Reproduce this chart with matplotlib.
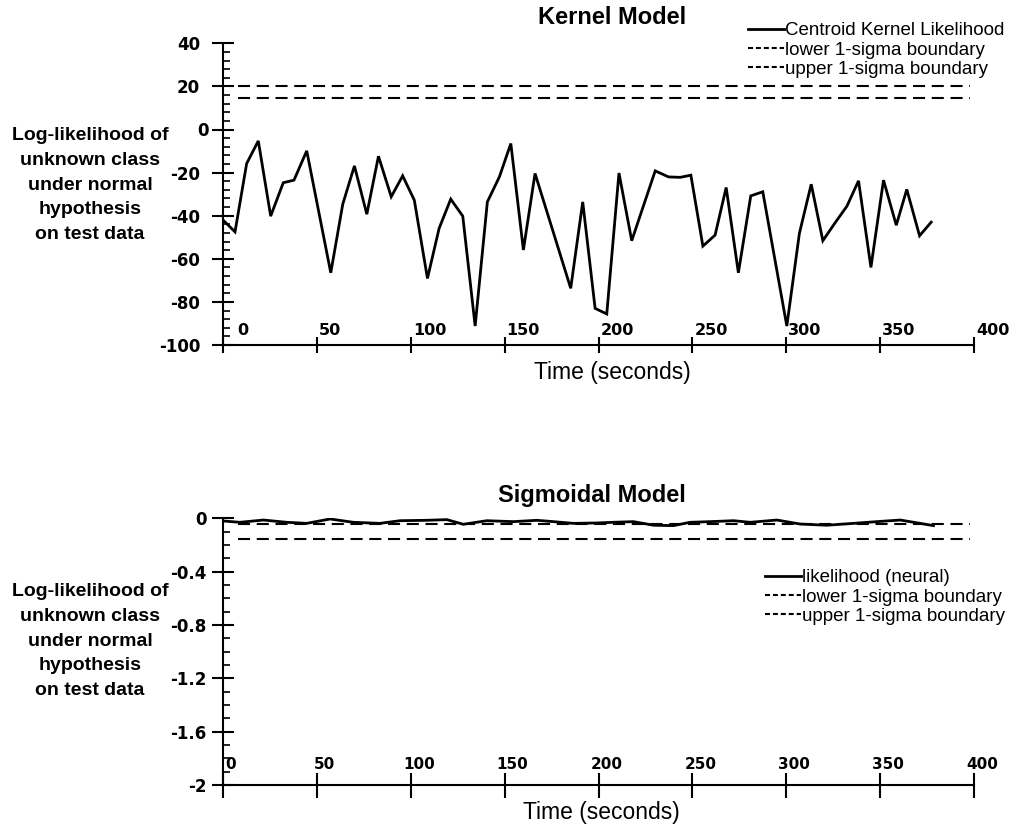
import matplotlib
matplotlib.use('Agg')
import matplotlib.pyplot as plt
import matplotlib.ticker as ticker
from matplotlib import font_manager, transforms
from matplotlib.lines import Line2D

# ---- data ----
kernel_time = [0, 6.4, 12.6, 18.8, 25.4, 32.1, 37.8, 44.6, 57.4, 63.8, 70.0, 76.6,
               82.8, 89.6, 95.7, 101.9, 108.9, 115.1, 121.3, 127.7, 134.3, 140.8,
               147.2, 153.3, 160.0, 166.2, 185.2, 191.6, 198.2, 204.4, 210.9, 217.7,
               230.2, 237.3, 243.5, 249.2, 255.6, 262.1, 268.0, 274.5, 281.1, 287.5,
               300.3, 307.0, 313.3, 319.5, 326.0, 332.3, 338.5, 345.1, 351.8, 358.6,
               364.2, 371.0, 377.2]
kernel_loglik = [-42, -47.5, -15.8, -5.3, -40.2, -24.7, -23.5, -9.9, -66.5, -34.6,
                 -16.9, -39.3, -12.4, -31.2, -21.5, -32.8, -69.1, -45.9, -32.3, -40.2,
                 -91.2, -33.6, -22.0, -6.5, -55.9, -20.4, -73.7, -33.6, -83.0, -85.6,
                 -20.2, -51.6, -19.2, -22.0, -22.2, -21.2, -54.1, -49.0, -26.9, -66.5,
                 -30.8, -28.9, -91.2, -48.2, -25.4, -51.6, -43.3, -35.6, -23.8, -64.0,
                 -23.5, -44.4, -27.8, -49.3, -43.0]
kernel_lower = 14.5
kernel_upper = 20.0

sig_time = [0, 9, 21.5, 33.9, 44.6, 57, 69.4, 83.6, 94.3, 108.5, 119.2, 128, 140.5,
            154.7, 167.1, 176, 186.6, 199, 207.9, 218.6, 229.3, 239.9, 248.8, 259.5,
            271.9, 280.8, 295, 307.4, 321.6, 335.8, 348.3, 360.7, 371.3, 378.4]
sig_loglik = [-0.020, -0.030, -0.013, -0.030, -0.038, -0.005, -0.030, -0.038, -0.018,
              -0.015, -0.010, -0.045, -0.018, -0.025, -0.015, -0.025, -0.038, -0.035,
              -0.030, -0.025, -0.052, -0.055, -0.030, -0.025, -0.018, -0.030, -0.013,
              -0.043, -0.052, -0.038, -0.025, -0.013, -0.038, -0.055]
sig_lower = -0.155
sig_upper = -0.045

bound_time = [8, 398]

x_ticks = [0, 50, 100, 150, 200, 250, 300, 350, 400]
x_labels = ['0', '50', '100', '150', '200', '250', '300', '350', '400']
kernel_yticks = [40, 20, 0, -20, -40, -60, -80, -100]
kernel_ylabels = ['40', '20', '0', '-20', '-40', '-60', '-80', '-100']
sig_yticks = [0, -0.4, -0.8, -1.2, -1.6, -2]
sig_ylabels = ['0', '-0.4', '-0.8', '-1.2', '-1.6', '-2']

kernel_legend = ['Centroid Kernel Likelihood', 'lower 1-sigma boundary', 'upper 1-sigma boundary']
sig_legend = ['likelihood (neural)', 'lower 1-sigma boundary', 'upper 1-sigma boundary']
ylabel_text = 'Log-likelihood of\nunknown class\nunder normal\nhypothesis\non test data'

installed = {f.name for f in font_manager.fontManager.ttflist}
NARROW = 'Liberation Sans Narrow' if 'Liberation Sans Narrow' in installed else 'Liberation Sans'
NARROW_SIZE = 16 if NARROW == 'Liberation Sans Narrow' else 13.5

W, H = 1011, 833
fig = plt.figure(figsize=(W / 100, H / 100), dpi=100)


def px_axes(x0, y0, x1, y1):
    return fig.add_axes([x0 / W, 1 - y1 / H, (x1 - x0) / W, (y1 - y0) / H])


DASH = (0, (5.8, 3.2))


def style(ax, yticks, ylabels, nminor, ypad, xlen, xdx, xdy, xha, xsize):
    for s in ['top', 'right']:
        ax.spines[s].set_visible(False)
    for s in ['left', 'bottom']:
        ax.spines[s].set_linewidth(1.5)
    ax.set_xlim(0, 400)
    ax.set_xticks(x_ticks)
    ax.set_xticklabels([])
    ax.tick_params(axis='x', direction='inout', length=xlen, width=1.5)
    ax.set_yticks(yticks)
    ax.set_yticklabels(ylabels, fontsize=12, fontweight='bold', family='DejaVu Sans')
    ax.tick_params(axis='y', which='major', direction='inout', length=16, width=1.5, pad=ypad)
    ax.yaxis.set_minor_locator(ticker.AutoMinorLocator(nminor))
    ax.tick_params(axis='y', which='minor', direction='in', length=5, width=1.2)
    for x, lab in zip(x_ticks, x_labels):
        dx = xdx
        if xha == 'left' and lab == '0':
            dx = 14
        tr = transforms.offset_copy(ax.get_xaxis_transform(), fig=fig, x=dx, y=xdy, units='dots')
        ax.text(x, 0, lab, transform=tr, ha=xha, va='bottom', fontsize=xsize,
                fontweight='bold', family='DejaVu Sans')


# ---- Kernel model ----
ax_k = px_axes(223, 43.3, 974, 345)
ax_k.plot(kernel_time, kernel_loglik, color='black', lw=2, solid_joinstyle='miter')
ax_k.plot(bound_time, [kernel_lower, kernel_lower], color='black', lw=1.5, ls=DASH)
ax_k.plot(bound_time, [kernel_upper, kernel_upper], color='black', lw=1.5, ls=DASH)
ax_k.set_ylim(-100, 40)
style(ax_k, kernel_yticks, kernel_ylabels, 5, 8.5, 12, 2, 7, 'left', 11.5)
# the "0" label sits closer to the axis in the original
ax_k.get_yticklabels()[2].set_transform(
    ax_k.get_yticklabels()[2].get_transform() + transforms.ScaledTranslation(0.09, 0, fig.dpi_scale_trans))

# ---- Sigmoidal model ----
ax_s = px_axes(223, 518.3, 974, 785)
ax_s.plot(sig_time, sig_loglik, color='black', lw=2)
ax_s.plot(bound_time, [sig_upper, sig_upper], color='black', lw=1.5, ls=DASH)
ax_s.plot(bound_time, [sig_lower, sig_lower], color='black', lw=1.5, ls=DASH)
ax_s.set_ylim(-2, 0)
style(ax_s, sig_yticks, sig_ylabels, 4, 4, 18, 8, 13, 'center', 11)

# ---- titles and labels ----
fig.text(612 / W, 1 - 18 / H, 'Kernel Model', ha='center', va='center',
         fontsize=17, fontweight='bold', family='Liberation Sans')
fig.text(592 / W, 1 - 495 / H, 'Sigmoidal Model', ha='center', va='center',
         fontsize=17, fontweight='bold', family='Liberation Sans')
fig.text(612 / W, 1 - 372 / H, 'Time (seconds)', ha='center', va='center',
         fontsize=NARROW_SIZE + 3, family=NARROW)
fig.text(601 / W, 1 - 813 / H, 'Time (seconds)', ha='center', va='center',
         fontsize=NARROW_SIZE + 3, family=NARROW)
for yc in [185, 641]:
    fig.text(90 / W, 1 - yc / H, ylabel_text, ha='center', va='center', ma='center',
             fontsize=14, fontweight='bold', family='Liberation Sans', linespacing=1.6)

# ---- legends ----
def handles(solid_lw=2):
    return [Line2D([], [], color='black', lw=solid_lw),
            Line2D([], [], color='black', lw=1.5, ls=(0, (2.4, 1.4))),
            Line2D([], [], color='black', lw=1.5, ls=(0, (2.4, 1.4)))]


for labels, (lx, ly) in [(kernel_legend, (748, 50)), (sig_legend, (765, 597))]:
    fig.legend(handles(), labels, loc='center left', bbox_to_anchor=(lx / W, 1 - ly / H),
               bbox_transform=fig.transFigure, frameon=False,
               prop={'family': NARROW, 'size': NARROW_SIZE}, handlelength=1.9,
               handletextpad=0.05, labelspacing=0.12, borderpad=0, borderaxespad=0)

fig.savefig('out.png', dpi=100)
